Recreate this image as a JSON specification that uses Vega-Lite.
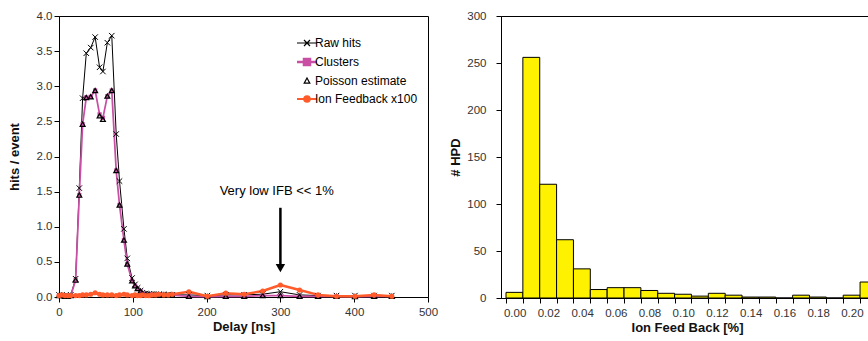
{
  "$schema": "https://vega.github.io/schema/vega-lite/v6.json",
  "padding": {"left": 7, "top": 9, "right": 0, "bottom": 0},
  "background": "white",
  "spacing": 10,
  "datasets": {
    "curves": [
      {"delay": 0, "Raw hits": 0.03, "Clusters": 0.02, "Poisson estimate": 0.02, "Ion Feedback x100": 0.02},
      {"delay": 4, "Raw hits": 0.03, "Clusters": 0.02, "Poisson estimate": 0.02, "Ion Feedback x100": 0.03},
      {"delay": 8, "Raw hits": 0.02, "Clusters": 0.01, "Poisson estimate": 0.01, "Ion Feedback x100": 0.02},
      {"delay": 12, "Raw hits": 0.02, "Clusters": 0.01, "Poisson estimate": 0.01, "Ion Feedback x100": 0.02},
      {"delay": 16, "Raw hits": 0.03, "Clusters": 0.02, "Poisson estimate": 0.02, "Ion Feedback x100": 0.02},
      {"delay": 22.5, "Raw hits": 0.26, "Clusters": 0.24, "Poisson estimate": 0.24, "Ion Feedback x100": 0.02},
      {"delay": 27.5, "Raw hits": 1.55, "Clusters": 1.45, "Poisson estimate": 1.45, "Ion Feedback x100": 0.02},
      {"delay": 32, "Raw hits": 2.83, "Clusters": 2.46, "Poisson estimate": 2.46, "Ion Feedback x100": 0.03},
      {"delay": 37, "Raw hits": 3.47, "Clusters": 2.84, "Poisson estimate": 2.84, "Ion Feedback x100": 0.03},
      {"delay": 43, "Raw hits": 3.55, "Clusters": 2.85, "Poisson estimate": 2.85, "Ion Feedback x100": 0.04},
      {"delay": 49, "Raw hits": 3.70, "Clusters": 2.94, "Poisson estimate": 2.94, "Ion Feedback x100": 0.06},
      {"delay": 55, "Raw hits": 3.27, "Clusters": 2.60, "Poisson estimate": 2.58, "Ion Feedback x100": 0.04},
      {"delay": 59.5, "Raw hits": 3.21, "Clusters": 2.55, "Poisson estimate": 2.53, "Ion Feedback x100": 0.03},
      {"delay": 65.5, "Raw hits": 3.62, "Clusters": 2.86, "Poisson estimate": 2.86, "Ion Feedback x100": 0.03},
      {"delay": 71.5, "Raw hits": 3.72, "Clusters": 2.94, "Poisson estimate": 2.94, "Ion Feedback x100": 0.03},
      {"delay": 77.5, "Raw hits": 2.32, "Clusters": 1.80, "Poisson estimate": 1.80, "Ion Feedback x100": 0.02},
      {"delay": 82, "Raw hits": 1.65, "Clusters": 1.31, "Poisson estimate": 1.31, "Ion Feedback x100": 0.03},
      {"delay": 88, "Raw hits": 0.97, "Clusters": 0.81, "Poisson estimate": 0.81, "Ion Feedback x100": 0.04},
      {"delay": 92.5, "Raw hits": 0.55, "Clusters": 0.47, "Poisson estimate": 0.47, "Ion Feedback x100": 0.03},
      {"delay": 99, "Raw hits": 0.27, "Clusters": 0.23, "Poisson estimate": 0.23, "Ion Feedback x100": 0.02},
      {"delay": 103, "Raw hits": 0.18, "Clusters": 0.16, "Poisson estimate": 0.16, "Ion Feedback x100": 0.03},
      {"delay": 106.5, "Raw hits": 0.13, "Clusters": 0.12, "Poisson estimate": 0.12, "Ion Feedback x100": 0.02},
      {"delay": 110.5, "Raw hits": 0.09, "Clusters": 0.085, "Poisson estimate": 0.085, "Ion Feedback x100": 0.02},
      {"delay": 113, "Raw hits": 0.06, "Clusters": 0.05, "Poisson estimate": 0.05, "Ion Feedback x100": 0.03},
      {"delay": 117.5, "Raw hits": 0.05, "Clusters": 0.04, "Poisson estimate": 0.04, "Ion Feedback x100": 0.02},
      {"delay": 122, "Raw hits": 0.045, "Clusters": 0.035, "Poisson estimate": 0.035, "Ion Feedback x100": 0.02},
      {"delay": 126, "Raw hits": 0.04, "Clusters": 0.03, "Poisson estimate": 0.03, "Ion Feedback x100": 0.03},
      {"delay": 131, "Raw hits": 0.04, "Clusters": 0.03, "Poisson estimate": 0.03, "Ion Feedback x100": 0.03},
      {"delay": 135.5, "Raw hits": 0.04, "Clusters": 0.03, "Poisson estimate": 0.03, "Ion Feedback x100": 0.04},
      {"delay": 142, "Raw hits": 0.035, "Clusters": 0.03, "Poisson estimate": 0.03, "Ion Feedback x100": 0.03},
      {"delay": 148, "Raw hits": 0.035, "Clusters": 0.025, "Poisson estimate": 0.025, "Ion Feedback x100": 0.03},
      {"delay": 153.5, "Raw hits": 0.03, "Clusters": 0.025, "Poisson estimate": 0.025, "Ion Feedback x100": 0.04},
      {"delay": 176, "Raw hits": 0.03, "Clusters": 0.01, "Poisson estimate": 0.01, "Ion Feedback x100": 0.075},
      {"delay": 201, "Raw hits": 0.02, "Clusters": 0.005, "Poisson estimate": 0.005, "Ion Feedback x100": 0.01},
      {"delay": 226, "Raw hits": 0.03, "Clusters": 0.01, "Poisson estimate": 0.01, "Ion Feedback x100": 0.055},
      {"delay": 251, "Raw hits": 0.03, "Clusters": 0.01, "Poisson estimate": 0.01, "Ion Feedback x100": 0.04},
      {"delay": 276, "Raw hits": 0.04, "Clusters": 0.02, "Poisson estimate": 0.02, "Ion Feedback x100": 0.085},
      {"delay": 300, "Raw hits": 0.075, "Clusters": 0.02, "Poisson estimate": 0.02, "Ion Feedback x100": 0.17},
      {"delay": 326, "Raw hits": 0.03, "Clusters": 0.01, "Poisson estimate": 0.01, "Ion Feedback x100": 0.10},
      {"delay": 351, "Raw hits": 0.02, "Clusters": 0.01, "Poisson estimate": 0.01, "Ion Feedback x100": 0.03},
      {"delay": 376, "Raw hits": 0.02, "Clusters": 0.01, "Poisson estimate": 0.01, "Ion Feedback x100": 0.01},
      {"delay": 401, "Raw hits": 0.02, "Clusters": 0.005, "Poisson estimate": 0.005, "Ion Feedback x100": 0.01},
      {"delay": 427, "Raw hits": 0.02, "Clusters": 0.01, "Poisson estimate": 0.01, "Ion Feedback x100": 0.03},
      {"delay": 451, "Raw hits": 0.02, "Clusters": 0.01, "Poisson estimate": 0.01, "Ion Feedback x100": 0.01}
    ],
    "hist": [
      {"ifb": 0.00, "lo": -0.005, "hi": 0.005, "count": 6},
      {"ifb": 0.01, "lo": 0.005, "hi": 0.015, "count": 256},
      {"ifb": 0.02, "lo": 0.015, "hi": 0.025, "count": 121},
      {"ifb": 0.03, "lo": 0.025, "hi": 0.035, "count": 62},
      {"ifb": 0.04, "lo": 0.035, "hi": 0.045, "count": 31},
      {"ifb": 0.05, "lo": 0.045, "hi": 0.055, "count": 9},
      {"ifb": 0.06, "lo": 0.055, "hi": 0.065, "count": 11},
      {"ifb": 0.07, "lo": 0.065, "hi": 0.075, "count": 11},
      {"ifb": 0.08, "lo": 0.075, "hi": 0.085, "count": 8},
      {"ifb": 0.09, "lo": 0.085, "hi": 0.095, "count": 5},
      {"ifb": 0.10, "lo": 0.095, "hi": 0.105, "count": 4},
      {"ifb": 0.11, "lo": 0.105, "hi": 0.115, "count": 2},
      {"ifb": 0.12, "lo": 0.115, "hi": 0.125, "count": 5},
      {"ifb": 0.13, "lo": 0.125, "hi": 0.135, "count": 3},
      {"ifb": 0.14, "lo": 0.135, "hi": 0.145, "count": 1},
      {"ifb": 0.15, "lo": 0.145, "hi": 0.155, "count": 1},
      {"ifb": 0.16, "lo": 0.155, "hi": 0.165, "count": 0},
      {"ifb": 0.17, "lo": 0.165, "hi": 0.175, "count": 3},
      {"ifb": 0.18, "lo": 0.175, "hi": 0.185, "count": 1},
      {"ifb": 0.19, "lo": 0.185, "hi": 0.195, "count": 0},
      {"ifb": 0.20, "lo": 0.195, "hi": 0.205, "count": 3},
      {"ifb": 0.21, "lo": 0.205, "hi": 0.215, "count": 17}
    ],
    "note": [
      {"delay": 300, "top": 1.27, "tip": 0.45, "head": 0.41, "tx": 295, "ty": 1.51, "label": "Very low IFB << 1%"}
    ]
  },
  "config": {
    "font": "Liberation Sans",
    "view": {"stroke": "black", "strokeWidth": 1},
    "axis": {
      "labelFont": "Liberation Sans", "labelFontSize": 11.5, "labelColor": "#333",
      "titleFont": "Liberation Sans", "titleFontSize": 13, "titleFontWeight": "bold", "titleColor": "#111",
      "domainColor": "black", "tickColor": "black", "grid": false, "tickSize": 5, "labelOverlap": false
    }
  },
  "hconcat": [
    {
      "width": 369,
      "height": 281,
      "layer": [
        {
          "data": {"name": "curves"},
          "transform": [
            {"fold": ["Raw hits", "Clusters", "Poisson estimate", "Ion Feedback x100"], "as": ["series", "value"]},
            {"filter": "datum.series !== 'Poisson estimate'"}
          ],
          "mark": {"type": "line", "strokeJoin": "round"},
          "encoding": {
            "x": {"field": "delay", "type": "quantitative", "title": "Delay [ns]",
                  "scale": {"domain": [0, 500], "nice": false},
                  "axis": {"values": [0, 100, 200, 300, 400, 500], "format": "d", "labelFlush": false, "labelPadding": 4, "titlePadding": 3}},
            "y": {"field": "value", "type": "quantitative", "title": "hits / event",
                  "scale": {"domain": [0, 4], "nice": false},
                  "axis": {"values": [0, 0.5, 1, 1.5, 2, 2.5, 3, 3.5, 4], "format": ".1f", "labelPadding": 2, "titlePadding": 15, "labelOverlap": false}},
            "color": {
              "field": "series", "type": "nominal",
              "scale": {"domain": ["Raw hits", "Clusters", "Poisson estimate", "Ion Feedback x100"], "range": ["black", "#C94FA5", "black", "#FF5B2B"]},
              "legend": {
                "title": null, "orient": "none", "legendX": 242, "legendY": 21,
                "symbolSize": 400, "labelFontSize": 12, "labelColor": "black", "labelOffset": 2, "rowPadding": 5,
                "labelFont": "Liberation Sans",
                "encode": {
                  "symbols": {
                    "update": {
                      "shape": {"signal": "datum.value === 'Raw hits' ? 'M-1,0H1M-0.3,-0.3L0.3,0.3M-0.3,0.3L0.3,-0.3' : datum.value === 'Clusters' ? 'M-1,0H1M-0.3,-0.3H0.3V0.3H-0.3Z' : datum.value === 'Poisson estimate' ? 'M0,-0.3L0.28,0.22H-0.28Z' : 'M-1,0H-0.28A0.28,0.28 0 1 1 0.28,0A0.28,0.28 0 1 1 -0.28,0M0.28,0H1'"},
                      "fill": {"signal": "datum.value === 'Clusters' ? '#C94FA5' : datum.value === 'Ion Feedback x100' ? '#FF5B2B' : 'transparent'"},
                      "stroke": {"signal": "datum.value === 'Clusters' ? '#C94FA5' : datum.value === 'Ion Feedback x100' ? '#FF5B2B' : 'black'"},
                      "strokeWidth": {"signal": "datum.value === 'Clusters' ? 2.5 : datum.value === 'Ion Feedback x100' ? 2 : 1.2"},
                      "opacity": {"value": 1}
                    }
                  }
                }
              }
            },
            "strokeWidth": {"field": "series", "type": "nominal",
                            "scale": {"domain": ["Raw hits", "Clusters", "Ion Feedback x100"], "range": [1, 2.5, 2]}, "legend": null}
          }
        },
        {
          "data": {"name": "curves"},
          "mark": {"type": "point", "shape": "M-1,-1L1,1M-1,1L1,-1", "size": 30, "filled": false, "stroke": "black", "strokeWidth": 1, "opacity": 1},
          "encoding": {
            "x": {"field": "delay", "type": "quantitative", "title": "Delay [ns]",
                  "axis": {"values": [0, 100, 200, 300, 400, 500], "format": "d", "labelFlush": false, "labelPadding": 4, "titlePadding": 3}},
            "y": {"field": "Raw hits", "type": "quantitative", "title": "hits / event",
                  "axis": {"values": [0, 0.5, 1, 1.5, 2, 2.5, 3, 3.5, 4], "format": ".1f", "labelPadding": 2, "titlePadding": 15, "labelOverlap": false}}
          }
        },
        {
          "data": {"name": "curves"},
          "mark": {"type": "square", "size": 18, "color": "#C94FA5", "opacity": 1},
          "encoding": {
            "x": {"field": "delay", "type": "quantitative", "title": "Delay [ns]",
                  "axis": {"values": [0, 100, 200, 300, 400, 500], "format": "d", "labelFlush": false, "labelPadding": 4, "titlePadding": 3}},
            "y": {"field": "Clusters", "type": "quantitative", "title": "hits / event",
                  "axis": {"values": [0, 0.5, 1, 1.5, 2, 2.5, 3, 3.5, 4], "format": ".1f", "labelPadding": 2, "titlePadding": 15, "labelOverlap": false}}
          }
        },
        {
          "data": {"name": "curves"},
          "mark": {"type": "point", "shape": "triangle-up", "size": 24, "filled": false, "stroke": "black", "strokeWidth": 1.2, "opacity": 1},
          "encoding": {
            "x": {"field": "delay", "type": "quantitative", "title": "Delay [ns]",
                  "axis": {"values": [0, 100, 200, 300, 400, 500], "format": "d", "labelFlush": false, "labelPadding": 4, "titlePadding": 3}},
            "y": {"field": "Poisson estimate", "type": "quantitative", "title": "hits / event",
                  "axis": {"values": [0, 0.5, 1, 1.5, 2, 2.5, 3, 3.5, 4], "format": ".1f", "labelPadding": 2, "titlePadding": 15, "labelOverlap": false}}
          }
        },
        {
          "data": {"name": "curves"},
          "mark": {"type": "circle", "size": 26, "color": "#FF5B2B", "opacity": 1},
          "encoding": {
            "x": {"field": "delay", "type": "quantitative", "title": "Delay [ns]",
                  "axis": {"values": [0, 100, 200, 300, 400, 500], "format": "d", "labelFlush": false, "labelPadding": 4, "titlePadding": 3}},
            "y": {"field": "Ion Feedback x100", "type": "quantitative", "title": "hits / event",
                  "axis": {"values": [0, 0.5, 1, 1.5, 2, 2.5, 3, 3.5, 4], "format": ".1f", "labelPadding": 2, "titlePadding": 15, "labelOverlap": false}}
          }
        },
        {
          "data": {"name": "note"},
          "mark": {"type": "rule", "strokeWidth": 2.5, "color": "black"},
          "encoding": {
            "x": {"field": "delay", "type": "quantitative", "title": "Delay [ns]",
                  "axis": {"values": [0, 100, 200, 300, 400, 500], "format": "d", "labelFlush": false, "labelPadding": 4, "titlePadding": 3}},
            "y": {"field": "top", "type": "quantitative", "title": "hits / event",
                  "axis": {"values": [0, 0.5, 1, 1.5, 2, 2.5, 3, 3.5, 4], "format": ".1f", "labelPadding": 2, "titlePadding": 15, "labelOverlap": false}},
            "y2": {"field": "tip"}
          }
        },
        {
          "data": {"name": "note"},
          "mark": {"type": "point", "shape": "triangle-down", "size": 90, "filled": true, "color": "black", "opacity": 1},
          "encoding": {
            "x": {"field": "delay", "type": "quantitative", "title": "Delay [ns]",
                  "axis": {"values": [0, 100, 200, 300, 400, 500], "format": "d", "labelFlush": false, "labelPadding": 4, "titlePadding": 3}},
            "y": {"field": "head", "type": "quantitative", "title": "hits / event",
                  "axis": {"values": [0, 0.5, 1, 1.5, 2, 2.5, 3, 3.5, 4], "format": ".1f", "labelPadding": 2, "titlePadding": 15, "labelOverlap": false}}
          }
        },
        {
          "data": {"name": "note"},
          "mark": {"type": "text", "fontSize": 13, "font": "Liberation Sans", "color": "black", "align": "center", "baseline": "middle"},
          "encoding": {
            "x": {"field": "tx", "type": "quantitative", "title": "Delay [ns]",
                  "axis": {"values": [0, 100, 200, 300, 400, 500], "format": "d", "labelFlush": false, "labelPadding": 4, "titlePadding": 3}},
            "y": {"field": "ty", "type": "quantitative", "title": "hits / event",
                  "axis": {"values": [0, 0.5, 1, 1.5, 2, 2.5, 3, 3.5, 4], "format": ".1f", "labelPadding": 2, "titlePadding": 15, "labelOverlap": false}},
            "text": {"field": "label"}
          }
        }
      ]
    },
    {
      "width": 372,
      "height": 282,
      "data": {"name": "hist"},
      "mark": {"type": "bar", "clip": true, "fill": "#FFF200", "stroke": "black", "strokeWidth": 1, "orient": "vertical"},
      "encoding": {
        "x": {"field": "lo", "type": "quantitative", "title": "Ion Feed Back [%]",
              "scale": {"domain": [-0.005, 0.2097], "nice": false, "zero": false},
              "axis": {"values": [-0.005, 0.005, 0.015, 0.025, 0.035, 0.045, 0.055, 0.065, 0.075, 0.085, 0.095, 0.105, 0.115, 0.125, 0.135, 0.145, 0.155, 0.165, 0.175, 0.185, 0.195, 0.205],
                       "labelExpr": "abs(round((datum.value + 0.005) * 100)) % 2 == 0 ? format(datum.value + 0.005, '.2f') : ''",
                       "labelOffset": 8.66, "labelOverlap": false, "labelFlush": false, "labelBound": false, "labelPadding": 4, "titlePadding": 3}},
        "x2": {"field": "hi"},
        "y": {"field": "count", "type": "quantitative", "title": "# HPD",
              "scale": {"domain": [0, 300], "nice": false},
              "axis": {"values": [0, 50, 100, 150, 200, 250, 300], "labelPadding": 10, "titlePadding": 4}},
        "y2": {"datum": 0}
      }
    }
  ]
}
